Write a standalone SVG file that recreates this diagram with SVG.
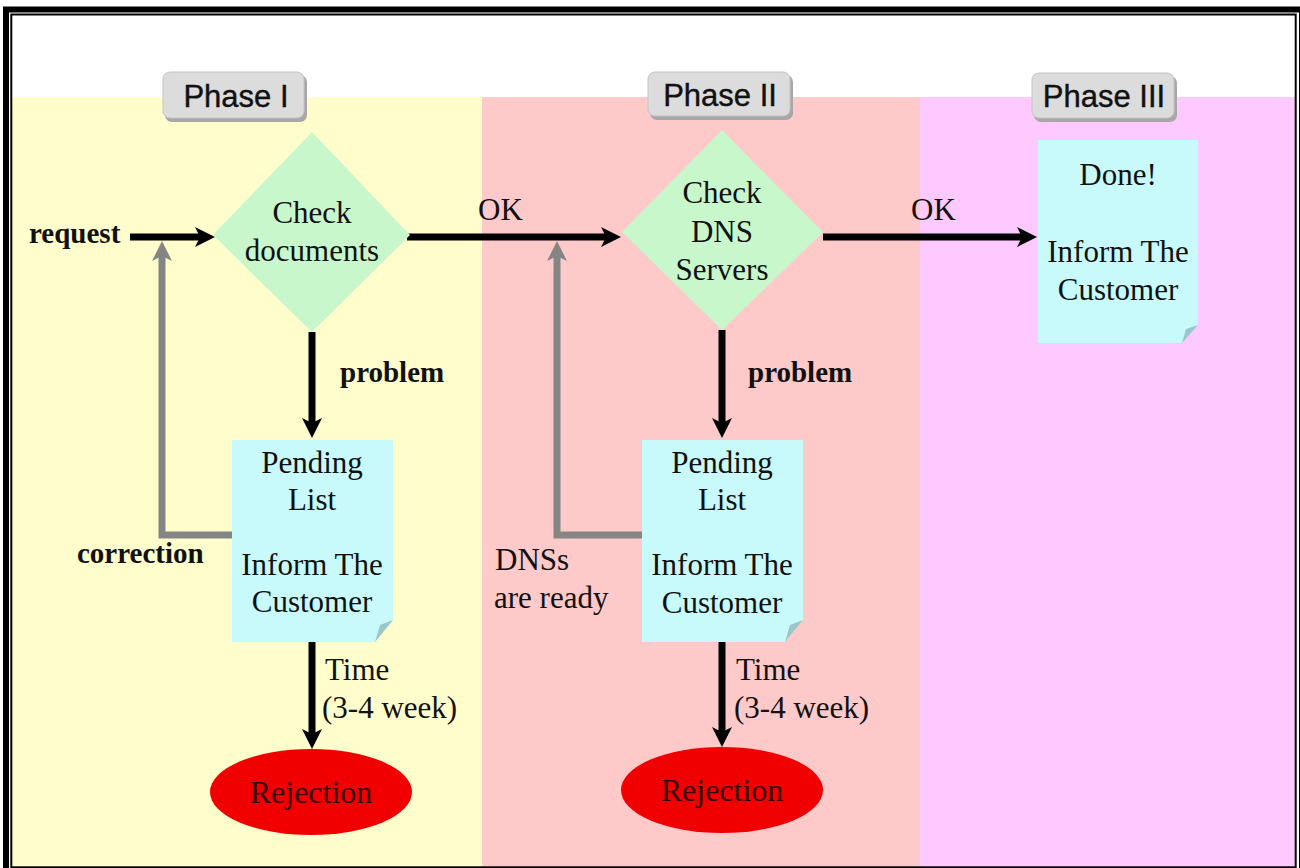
<svg xmlns="http://www.w3.org/2000/svg" width="1300" height="868" viewBox="0 0 1300 868">
<defs>
<style>
.serif{font-family:"Liberation Serif","Times New Roman",serif;font-size:31px;fill:#111;}
.bold{font-weight:bold;font-size:29px;}
.mid{text-anchor:middle;}
.tabtxt{font-family:"Liberation Sans",Arial,sans-serif;font-size:31px;fill:#111;text-anchor:middle;stroke:#111;stroke-width:0.4;}
.tab{fill:#dcdcdc;stroke:#c4c4c4;stroke-width:1;}
.tabshadow{fill:#a8a8a8;}
.diamond{fill:#c8f7cc;}
.note{fill:#c8fafc;}
.fold{fill:#9cc6c9;}
.reject{fill:#f00000;}
.rejtxt{font-family:"Liberation Serif","Times New Roman",serif;font-size:32px;fill:#3a0000;text-anchor:middle;}
.blk{fill:none;stroke:#000;stroke-width:7;marker-end:url(#ab);}
.gry{fill:none;stroke:#858585;stroke-width:7;marker-end:url(#ag);}
</style>
<marker id="ab" markerUnits="userSpaceOnUse" viewBox="0 0 20 20" markerWidth="20" markerHeight="20" refX="12" refY="10" orient="auto">
<path d="M0,0 L20,10 L0,20 L5,10 Z" fill="#000"/>
</marker>
<marker id="ag" markerUnits="userSpaceOnUse" viewBox="0 0 20 20" markerWidth="20" markerHeight="20" refX="12" refY="10" orient="auto">
<path d="M0,0 L20,10 L0,20 L5,10 Z" fill="#858585"/>
</marker>
</defs>

<g id="background">
<rect x="0" y="0" width="1300" height="868" fill="#ffffff"/>
<rect x="12" y="97" width="470" height="770" fill="#fffdcb"/>
<rect x="482" y="97" width="438" height="770" fill="#fdc9c9"/>
<rect x="920" y="97" width="376" height="770" fill="#fec9fe"/>
</g>

<g id="border" fill="none" stroke="#000">
<rect x="6" y="9.5" width="1296" height="870" stroke-width="6"/>
<rect x="11.3" y="14.5" width="1284.4" height="852.8" stroke-width="2"/>
</g>

<g id="phase1-tab">
<rect class="tabshadow" x="165" y="75" width="142" height="47" rx="7"/>
<rect class="tab" x="163" y="72" width="141" height="46" rx="7"/>
<text class="tabtxt" x="236" y="107">Phase I</text>
</g>
<g id="phase2-tab">
<rect class="tabshadow" x="650" y="75" width="143" height="45" rx="7"/>
<rect class="tab" x="648" y="72" width="142" height="44" rx="7"/>
<text class="tabtxt" x="720" y="106">Phase II</text>
</g>
<g id="phase3-tab">
<rect class="tabshadow" x="1034" y="76" width="143" height="46" rx="7"/>
<rect class="tab" x="1032" y="73" width="142" height="45" rx="7"/>
<text class="tabtxt" x="1104" y="107">Phase III</text>
</g>

<g id="connectors">
<path class="blk" d="M130,237 H207"/>
<path class="blk" d="M407,237 H613"/>
<path class="blk" d="M823,237 H1029"/>
<path class="blk" d="M312,332 V430"/>
<path class="blk" d="M722,330 V430"/>
<path class="blk" d="M312,642 V741"/>
<path class="blk" d="M722,642 V739"/>
<path class="gry" d="M233,535 H162 V249"/>
<path class="gry" d="M643,535 H557 V249"/>
<text class="serif bold" x="29" y="243">request</text>
<text class="serif" x="478" y="220">OK</text>
<text class="serif" x="911" y="220">OK</text>
<text class="serif bold" x="340" y="382">problem</text>
<text class="serif bold" x="748" y="382">problem</text>
<text class="serif bold" x="77" y="563">correction</text>
<text class="serif" x="495" y="570">DNSs</text>
<text class="serif" x="494" y="608">are ready</text>
<text class="serif" x="325" y="680">Time</text>
<text class="serif" x="322" y="718">(3-4 week)</text>
<text class="serif" x="736" y="680">Time</text>
<text class="serif" x="734" y="718">(3-4 week)</text>
</g>

<g id="check-documents">
<polygon class="diamond" points="312,132 410,235 312,332 213,235"/>
<text class="serif mid" x="312" y="223">Check</text>
<text class="serif mid" x="312" y="261">documents</text>
</g>

<g id="check-dns">
<polygon class="diamond" points="722,130 823,232 722,330 622,232"/>
<text class="serif mid" x="722" y="203">Check</text>
<text class="serif mid" x="722" y="242">DNS</text>
<text class="serif mid" x="722" y="280">Servers</text>
</g>

<g id="done-note">
<path class="note" d="M1038,140 H1198 V325 L1182,343 H1038 Z"/>
<polygon class="fold" points="1182,343 1198,325 1186,329"/>
<text class="serif mid" x="1118" y="185">Done!</text>
<text class="serif mid" x="1118" y="262">Inform The</text>
<text class="serif mid" x="1118" y="300">Customer</text>
</g>

<g id="pending-1">
<path class="note" d="M232,440 H393 V620 L375,642 H232 Z"/>
<polygon class="fold" points="375,642 393,620 380,625"/>
<text class="serif mid" x="312" y="473">Pending</text>
<text class="serif mid" x="312" y="510">List</text>
<text class="serif mid" x="312" y="575">Inform The</text>
<text class="serif mid" x="312" y="612">Customer</text>
</g>

<g id="pending-2">
<path class="note" d="M642,440 H803 V620 L785,642 H642 Z"/>
<polygon class="fold" points="785,642 803,620 790,625"/>
<text class="serif mid" x="722" y="473">Pending</text>
<text class="serif mid" x="722" y="510">List</text>
<text class="serif mid" x="722" y="575">Inform The</text>
<text class="serif mid" x="722" y="613">Customer</text>
</g>

<g id="rejection-1">
<ellipse class="reject" cx="311" cy="792" rx="101" ry="43"/>
<text class="rejtxt" x="311" y="803">Rejection</text>
</g>

<g id="rejection-2">
<ellipse class="reject" cx="722" cy="790" rx="101" ry="43"/>
<text class="rejtxt" x="722" y="801">Rejection</text>
</g>
</svg>
